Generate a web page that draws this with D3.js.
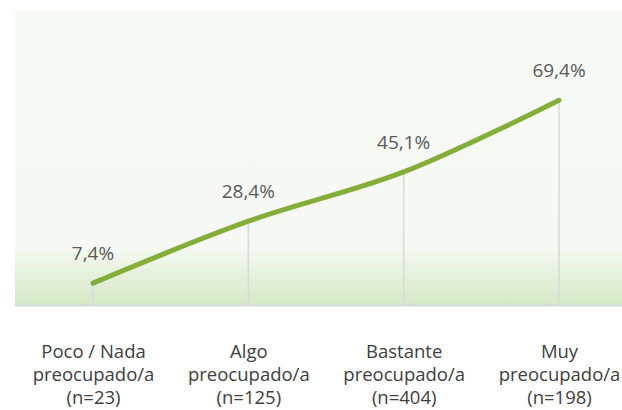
<!DOCTYPE html>
<html>
  <head>
    <script src="https://d3js.org/d3.v7.min.js"></script>
    <style>
      body { margin: 0; background: #ffffff; }
      .value-label {
        font-family: "Open Sans", "Noto Sans", sans-serif;
        font-size: 19px;
        fill: #595959;
        text-anchor: middle;
      }
      .axis--x text {
        font-family: "Open Sans", "Noto Sans", sans-serif;
        font-size: 18.5px;
        fill: #404040;
      }
      .axis--x .domain, .axis--x .tick line { display: none; }
    </style>
  </head>
  <body>
    <svg width="622" height="410"></svg>
    <script>
      const categories = ["poco", "algo", "bastante", "muy"];
      const categoryLines = [
        ["Poco / Nada", "preocupado/a", "(n=23)"],
        ["Algo", "preocupado/a", "(n=125)"],
        ["Bastante", "preocupado/a", "(n=404)"],
        ["Muy", "preocupado/a", "(n=198)"]
      ];
      const values = [7.4, 28.4, 45.1, 69.4];
      const valueLabels = ["7,4%", "28,4%", "45,1%", "69,4%"];

      const svg = d3.select("svg");
      const plot = {left: 15, right: 622, top: 10, bottom: 305};

      const xScale = d3.scalePoint()
        .domain(categories)
        .range([93, 559]);

      const yScale = d3.scaleLinear()
        .domain([0, 100])
        .range([plot.bottom, plot.top]);

      // background with green fade at bottom
      const defs = svg.append("defs");
      const grad = defs.append("linearGradient")
        .attr("id", "bg")
        .attr("x1", 0).attr("y1", 0).attr("x2", 0).attr("y2", 1);
      grad.append("stop").attr("offset", "0%").attr("stop-color", "#f7f9f5");
      grad.append("stop").attr("offset", "80%").attr("stop-color", "#f6f9f3");
      grad.append("stop").attr("offset", "100%").attr("stop-color", "#d4e8c6");

      svg.append("rect")
        .attr("x", plot.left)
        .attr("y", plot.top)
        .attr("width", plot.right - plot.left)
        .attr("height", plot.bottom - plot.top)
        .attr("fill", "url(#bg)");

      svg.append("line")
        .attr("x1", plot.left).attr("x2", plot.right)
        .attr("y1", plot.bottom + 0.5).attr("y2", plot.bottom + 0.5)
        .attr("stroke", "#d9d9d9")
        .attr("stroke-width", 2);

      const data = categories.map((c, i) => ({cat: c, value: values[i], label: valueLabels[i]}));

      // drop lines
      svg.selectAll(".drop")
        .data(data)
        .join("line")
          .attr("class", "drop")
          .attr("x1", d => xScale(d.cat))
          .attr("x2", d => xScale(d.cat))
          .attr("y1", d => yScale(d.value))
          .attr("y2", plot.bottom)
          .attr("stroke", "#d9d9d9")
          .attr("stroke-width", 1.5);

      const line = d3.line()
        .x(d => xScale(d.cat))
        .y(d => yScale(d.value))
        .curve(d3.curveCatmullRom.alpha(0.5));

      svg.append("path")
        .datum(data)
        .attr("d", line)
        .attr("fill", "none")
        .attr("stroke", "#84ad3a")
        .attr("stroke-width", 5)
        .attr("stroke-linecap", "round");

      svg.selectAll(".value-label")
        .data(data)
        .join("text")
          .attr("class", "value-label")
          .attr("x", d => xScale(d.cat))
          .attr("y", d => yScale(d.value) - 23)
          .text(d => d.label);

      const xAxis = d3.axisBottom(xScale)
        .tickSize(0)
        .tickFormat("");

      const axisG = svg.append("g")
        .attr("class", "axis--x")
        .attr("transform", `translate(0, ${plot.bottom})`)
        .call(xAxis);

      axisG.selectAll(".tick text")
        .attr("y", 0)
        .attr("dy", null)
        .each(function(d, i){
          const t = d3.select(this);
          categoryLines[i].forEach((s, j) => {
            t.append("tspan")
              .attr("x", 0)
              .attr("y", 53 + j * 23)
              .text(s);
          });
        });
    </script>
  </body>
</html>
